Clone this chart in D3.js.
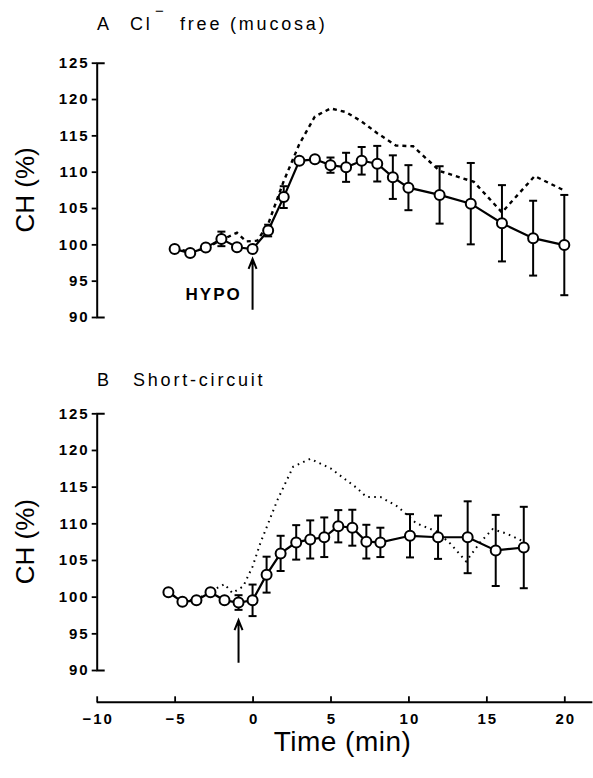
<!DOCTYPE html>
<html>
<head>
<meta charset="utf-8">
<script src="https://cdn.jsdelivr.net/npm/d3@7"></script>
<style>
  body { margin: 0; background: #fff; }
  svg { display: block; }
</style>
</head>
<body>
<svg id="chart" width="593" height="778"></svg>
<script>
// Panel A: Cl- free mucosal solution, mean ± SEM
const timesA = [-5, -4, -3, -2, -1, 0, 1, 2, 3, 4, 5, 6, 7, 8, 9, 10, 12, 14, 16, 18, 20];
const meanA  = [99.35, 98.8, 99.55, 100.75, 99.6, 99.35, 101.9, 106.5, 111.5, 111.7, 110.9,
                110.6, 111.5, 111.1, 109.25, 107.8, 106.8, 105.6, 102.9, 100.85, 99.9];
const semA   = [0, 0, 0, 1.0, 0, 0, 0.8, 1.5, 0.4, 0.4, 1.05, 2.0, 1.9, 2.45, 3.0, 3.1,
                3.95, 5.6, 5.25, 5.15, 6.9];
// Panel A: control response (dashed)
const ctrlTimesA = [-5, -4, -3, -2.2, -1, -0.4, 0.3, 1, 2, 3, 4, 5, 6, 7, 8, 9.2, 10.3,
                    12, 14.2, 16, 18.1, 20.1];
const ctrlA      = [99.4, 99.0, 99.4, 100.4, 101.6, 100.4, 100.5, 102.8, 108.7, 113.8, 117.6,
                    118.7, 118.2, 116.9, 115.3, 113.6, 113.5, 110.1, 108.6, 104.4, 109.4, 107.3];

// Panel B: short-circuited tissue, mean ± SEM
const timesB = [-5.4, -4.5, -3.6, -2.7, -1.8, -0.9, 0, 0.9, 1.8, 2.8, 3.7, 4.6, 5.5, 6.4,
                7.3, 8.2, 10.1, 11.9, 13.8, 15.6, 17.4];
const meanB  = [100.6, 99.3, 99.5, 100.6, 99.5, 99.2, 99.5, 103.0, 105.9, 107.4, 107.8, 108.1,
                109.6, 109.4, 107.5, 107.4, 108.3, 108.1, 108.1, 106.3, 106.7];
const semB   = [0, 0, 0, 0, 0, 1.0, 2.15, 2.45, 2.4, 2.35, 2.6, 2.7, 2.2, 2.45, 2.3, 2.0,
                2.95, 2.95, 4.9, 4.85, 5.55];
// Panel B: control response (dotted)
const ctrlTimesB = [-5.4, -4.5, -3.6, -2.7, -1.8, -1.3, -0.6, 0, 0.5, 1.6, 2.6, 3.7, 5.0, 6.7,
                    7.3, 8.2, 9.3, 10.5, 11.8, 12.7, 13.7, 14.6, 15.4, 16.3, 17.4];
const ctrlB      = [100.6, 99.4, 99.6, 100.7, 101.7, 100.5, 101.4, 104.1, 107.3, 113.2, 117.7,
                    118.8, 117.5, 114.8, 113.6, 113.6, 112.3, 110.0, 108.9, 107.2, 104.8,
                    107.4, 109.2, 108.6, 107.5];

// Axis ticks and annotation positions (data units)
const yTicks = [90, 95, 100, 105, 110, 115, 120, 125];
const xTicks = [-10, -5, 0, 5, 10, 15, 20];
const xAxisEnd = 21.8;
const arrowA = { t: 0, from: 91, to: 98 };
const arrowB = { t: -0.9, from: 91, to: 96.8 };

const svg = d3.select('#chart');
const x = d3.scaleLinear().domain([-10, 20]).range([96.7, 564.3]);
const yA = d3.scaleLinear().domain([90, 125]).range([317, 62.7]);
const yB = d3.scaleLinear().domain([90, 125]).range([670, 413.3]);

const tickFont = g => g.selectAll('text')
  .attr('fill', '#000')
  .style('font-family', '"Liberation Sans", Arial, sans-serif')
  .style('font-size', '15px')
  .style('font-weight', 'bold')
  .style('letter-spacing', '2px');

function zip(ts, vs, es) {
  return ts.map((t, i) => ({ t, v: vs[i], e: es ? es[i] : 0 }));
}

function drawPanel(y, times, means, sems, ctrlTimes, ctrl, ctrlDash, ctrlWidth, arrow) {
  const g = svg.append('g');

  // y axis: outward ticks, inward end caps
  const ax = g.append('g')
    .attr('transform', `translate(${x(-10)},0)`)
    .call(d3.axisLeft(y).tickValues(yTicks).tickSizeInner(5).tickSizeOuter(-8).tickPadding(2))
    .call(tickFont);
  ax.select('.domain').attr('stroke-width', 2);
  ax.selectAll('.tick line').attr('stroke-width', 1.8);

  // y axis title
  g.append('text')
    .attr('transform', `translate(34,${(y.range()[0] + y.range()[1]) / 2}) rotate(-90)`)
    .attr('text-anchor', 'middle')
    .style('font-family', '"Liberation Sans", Arial, sans-serif')
    .style('font-size', '26px')
    .text('CH (%)');

  const line = d3.line().x(d => x(d.t)).y(d => y(d.v));

  // control curve
  g.append('path')
    .datum(zip(ctrlTimes, ctrl))
    .attr('d', line)
    .attr('fill', 'none')
    .attr('stroke', '#000')
    .attr('stroke-width', ctrlWidth)
    .attr('stroke-dasharray', ctrlDash);

  const pts = zip(times, means, sems);

  // mean line
  g.append('path')
    .datum(pts)
    .attr('d', line)
    .attr('fill', 'none')
    .attr('stroke', '#000')
    .attr('stroke-width', 2.2);

  // error bars
  const eb = g.append('g').attr('stroke', '#000').attr('stroke-width', 2);
  pts.filter(d => d.e > 0).forEach(d => {
    const cx = x(d.t), y0 = y(d.v - d.e), y1 = y(d.v + d.e);
    eb.append('line').attr('x1', cx).attr('x2', cx).attr('y1', y0).attr('y2', y1);
    eb.append('line').attr('x1', cx - 4).attr('x2', cx + 4).attr('y1', y0).attr('y2', y0);
    eb.append('line').attr('x1', cx - 4).attr('x2', cx + 4).attr('y1', y1).attr('y2', y1);
  });

  // markers
  g.append('g').selectAll('circle')
    .data(pts)
    .join('circle')
    .attr('cx', d => x(d.t))
    .attr('cy', d => y(d.v))
    .attr('r', 5)
    .attr('fill', '#fff')
    .attr('stroke', '#000')
    .attr('stroke-width', 2);

  // stimulus arrow
  const ax0 = x(arrow.t), tip = y(arrow.to), base = y(arrow.from);
  g.append('path')
    .attr('d', `M${ax0},${base}V${tip}M${ax0 - 4},${tip + 10}L${ax0},${tip}L${ax0 + 4},${tip + 10}`)
    .attr('fill', 'none')
    .attr('stroke', '#000')
    .attr('stroke-width', 2);

  return g;
}

const gA = drawPanel(yA, timesA, meanA, semA, ctrlTimesA, ctrlA, '4,4', 2.4, arrowA);
const gB = drawPanel(yB, timesB, meanB, semB, ctrlTimesB, ctrlB, '1.6,4.4', 2, arrowB);

// HYPO label next to the arrow in panel A
gA.append('text')
  .attr('x', x(arrowA.t) - 67)
  .attr('y', yA(93.1) + 6)
  .style('font-family', '"Liberation Sans", Arial, sans-serif')
  .style('font-size', '17px')
  .style('font-weight', 'bold')
  .style('letter-spacing', '2px')
  .text('HYPO');

// panel titles
const titleStyle = sel => sel
  .style('font-family', '"Liberation Sans", Arial, sans-serif')
  .style('font-size', '18px')
  .style('letter-spacing', '2.8px');

svg.append('text').attr('x', 97).attr('y', 29.5).call(titleStyle).text('A');
svg.append('text').attr('x', 130).attr('y', 29.5).call(titleStyle).text('Cl');
svg.append('text').attr('x', 155).attr('y', 16)
  .style('font-family', '"Liberation Sans", Arial, sans-serif')
  .style('font-size', '15px').text('\u2212');
svg.append('text').attr('x', 180).attr('y', 29.5).call(titleStyle).text('free (mucosa)');

svg.append('text').attr('x', 97).attr('y', 386).call(titleStyle).text('B');
svg.append('text').attr('x', 133).attr('y', 386).call(titleStyle).text('Short-circuit');

// shared time axis
const xg = svg.append('g')
  .attr('transform', 'translate(0,702.3)')
  .call(d3.axisBottom(x).tickValues(xTicks).tickSizeInner(-6).tickSizeOuter(0).tickPadding(11))
  .call(tickFont);
xg.select('.domain')
  .attr('d', `M${x(-10)},0H${x(xAxisEnd)}`)
  .attr('stroke-width', 2);
xg.selectAll('.tick line').attr('stroke-width', 1.8);
xg.selectAll('.tick text').attr('dx', '1px');

svg.append('text')
  .attr('x', (x(-10) + x(20)) / 2 + 12)
  .attr('y', 751)
  .attr('text-anchor', 'middle')
  .style('font-family', '"Liberation Sans", Arial, sans-serif')
  .style('font-size', '28px')
  .style('letter-spacing', '0.5px')
  .text('Time (min)');
</script>
</body>
</html>
